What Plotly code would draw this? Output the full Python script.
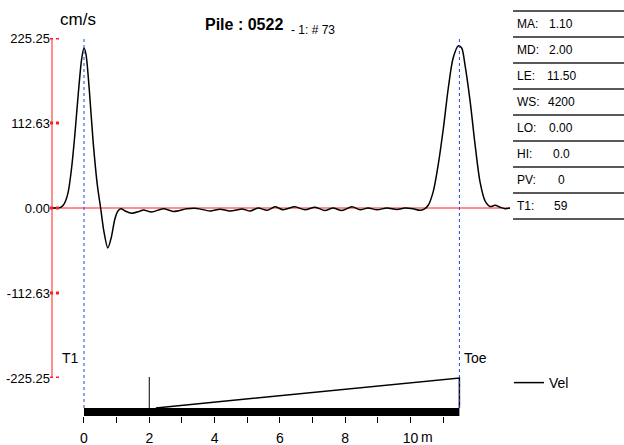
import plotly.graph_objects as go

FONT = "Liberation Sans Narrow, Arial Narrow, Liberation Sans, sans-serif"
RED = "#ff2020"

# Velocity trace: depth (m) and velocity (cm/s)
depth = [-0.98, -0.80, -0.74, -0.63, -0.55, -0.48, -0.38, -0.28, -0.17, -0.07,
         0.0, 0.06, 0.16, 0.28, 0.41, 0.51, 0.61, 0.73, 0.83, 0.95,
         1.04, 1.13, 1.26, 1.46, 1.69, 1.82, 2.07, 2.43, 2.74, 3.15,
         3.46, 3.86, 4.17, 4.47, 4.87, 5.09, 5.33, 5.61, 5.85, 6.10,
         6.46, 6.77, 7.08, 7.38, 7.63, 7.90, 8.21, 8.46, 8.70, 8.98,
         9.28, 9.59, 9.83, 10.08, 10.29, 10.42, 10.55, 10.70, 10.85, 11.01,
         11.16, 11.31, 11.47, 11.57, 11.67, 11.83, 11.98, 12.13, 12.29, 12.44,
         12.59, 12.75, 12.90, 13.05]
velocity = [0, 0, 0.5, 4, 11, 22, 53, 97, 154, 198,
            212, 204, 158, 88, 30, 0, -31, -53, -40, -14,
            -4, -1, -4, -7, -4.5, -2.5, -5.3, -1, -4.5, -1,
            -0.5, -4, -1.5, -4, -1.5, -4, 0, -3, 1.5, -2.3,
            1.5, -2.3, 1, -3.3, 0, -3.3, 1.5, -2.3, 0, -2.3,
            0, -2, 0, -1, -3, -1.5, 4, 22, 57, 106,
            159, 199, 215, 212, 190, 141, 84, 35, 9, 2,
            3.5, 1, -1, 0]

y_ticks = [225.25, 112.63, 0.0, -112.63, -225.25]
y_labels = ["225.25", "112.63", "0.00", "-112.63", "-225.25"]

x_ticks = list(range(12))
x_labels = ["0", "", "2", "", "4", "", "6", "", "8", "", "10", ""]

# parameter table
param_names = ["MA:", "MD:", "LE:", "WS:", "LO:", "HI:", "PV:", "T1:"]
param_values = ["1.10", "2.00", "11.50", "4200", "0.00", "0.0", "0", "59"]
marker_depth = float(param_values[1])
pile_length = float(param_values[2])

# pile profile sketch under the trace
profile_depth = [2.2, 11.5, 11.5]
profile_level = [8, 38, 8]

fig = go.Figure()

fig.add_trace(go.Scatter(
    x=depth, y=velocity, mode="lines", name="Vel",
    line=dict(color="black", width=1.5, shape="spline", smoothing=0.8),
    xaxis="x", yaxis="y"
))
fig.add_trace(go.Scatter(
    x=profile_depth, y=profile_level, mode="lines", showlegend=False,
    line=dict(color="black", width=1.5), xaxis="x2", yaxis="y2"
))
fig.add_trace(go.Scatter(
    x=[marker_depth, marker_depth], y=[8, 39], mode="lines", showlegend=False,
    line=dict(color="black", width=1), xaxis="x2", yaxis="y2"
))

H = 378.0  # plot-area height in px (t=38, b=29)


def py(px):
    return (416 - px) / H


def px_x(px):
    return (px - 52) / 458.0


shapes = []
# zero line
shapes.append(dict(type="line", xref="paper", yref="y", x0=0, x1=1, y0=0, y1=0,
                   layer="below", line=dict(color=RED, width=1)))
# red y axis line
shapes.append(dict(type="line", xref="paper", yref="y", x0=0, x1=0,
                   y0=y_ticks[-1], y1=y_ticks[0], line=dict(color=RED, width=1)))
# red dotted tick marks
for v in y_ticks:
    shapes.append(dict(type="line", xref="paper", yref="y", x0=px_x(50), x1=px_x(60),
                       y0=v, y1=v, line=dict(color=RED, width=3, dash="3px,3px")))
# T1 and Toe markers
for xv in [0, pile_length]:
    shapes.append(dict(type="line", xref="x", yref="paper", x0=xv, x1=xv,
                       y0=py(408), y1=1, line=dict(color="#2444d8", width=1, dash="dot")))
# pile body
shapes.append(dict(type="rect", xref="x2", yref="y2", x0=0, x1=pile_length, y0=0, y1=8,
                   fillcolor="black", line=dict(width=0)))
# table lines
for i in range(len(param_names) + 1):
    yy = py(11 + 26 * i)
    shapes.append(dict(type="line", xref="paper", yref="paper", x0=px_x(513), x1=px_x(624),
                       y0=yy, y1=yy, line=dict(color="#222", width=1.3)))

annotations = [
    dict(text="cm/s", xref="paper", yref="paper", x=px_x(58), y=py(20),
         xanchor="left", yanchor="middle", showarrow=False, font=dict(size=17)),
    dict(text="<b>Pile : 0522</b>", xref="paper", yref="paper", x=px_x(203), y=py(24),
         xanchor="left", yanchor="middle", showarrow=False, font=dict(size=16)),
    dict(text="- 1: # 73", xref="paper", yref="paper", x=px_x(289), y=py(30),
         xanchor="left", yanchor="middle", showarrow=False, font=dict(size=12)),
    dict(text="T1", xref="x", yref="paper", x=0, y=py(358), xshift=-3,
         xanchor="right", yanchor="middle", showarrow=False, font=dict(size=14)),
    dict(text="Toe", xref="x", yref="paper", x=pile_length, y=py(358), xshift=3,
         xanchor="left", yanchor="middle", showarrow=False, font=dict(size=14)),
    dict(text="m", xref="x2", yref="paper", x=10, y=py(437), xshift=9,
         xanchor="left", yanchor="middle", showarrow=False, font=dict(size=14)),
]
for i, (name, val) in enumerate(zip(param_names, param_values)):
    yy = py(24 + 26 * i)
    annotations.append(dict(text=name, xref="paper", yref="paper", x=px_x(515), y=yy,
                            xanchor="left", yanchor="middle", showarrow=False,
                            font=dict(size=12)))
    annotations.append(dict(text=val, xref="paper", yref="paper", x=px_x(561), y=yy,
                            xanchor="center", yanchor="middle", showarrow=False,
                            font=dict(size=12)))

fig.update_layout(
    width=624, height=445,
    margin=dict(l=52, r=114, t=38, b=29, autoexpand=False),
    plot_bgcolor="white", paper_bgcolor="white",
    font=dict(family=FONT, size=13, color="black"),
    showlegend=True,
    legend=dict(x=px_x(509), y=py(383), xanchor="left", yanchor="middle",
                bgcolor="rgba(0,0,0,0)", font=dict(size=14), itemwidth=30),
    xaxis=dict(range=[-0.98, 13.05], visible=False, anchor="y"),
    yaxis=dict(domain=[py(378), 1], range=[-225.25, 225.25], anchor="x",
               tickvals=y_ticks, ticktext=y_labels, ticks="", showgrid=False,
               zeroline=False, showline=False, automargin=False,
               ticklabelstandoff=1, tickfont=dict(size=13)),
    xaxis2=dict(range=[-0.98, 13.05], matches="x", anchor="y2",
                tickvals=x_ticks, ticktext=x_labels, ticks="outside", ticklen=6,
                tickcolor="black", tickwidth=1, showgrid=False, zeroline=False,
                showline=False, automargin=False, ticklabelstandoff=3,
                tickfont=dict(size=14)),
    yaxis2=dict(domain=[0, py(376)], range=[0, 40], visible=False, anchor="x2"),
    shapes=shapes,
    annotations=annotations,
)

fig.write_html("out.html", config={"displayModeBar": False},
               post_script="document.body.style.margin='0';")
